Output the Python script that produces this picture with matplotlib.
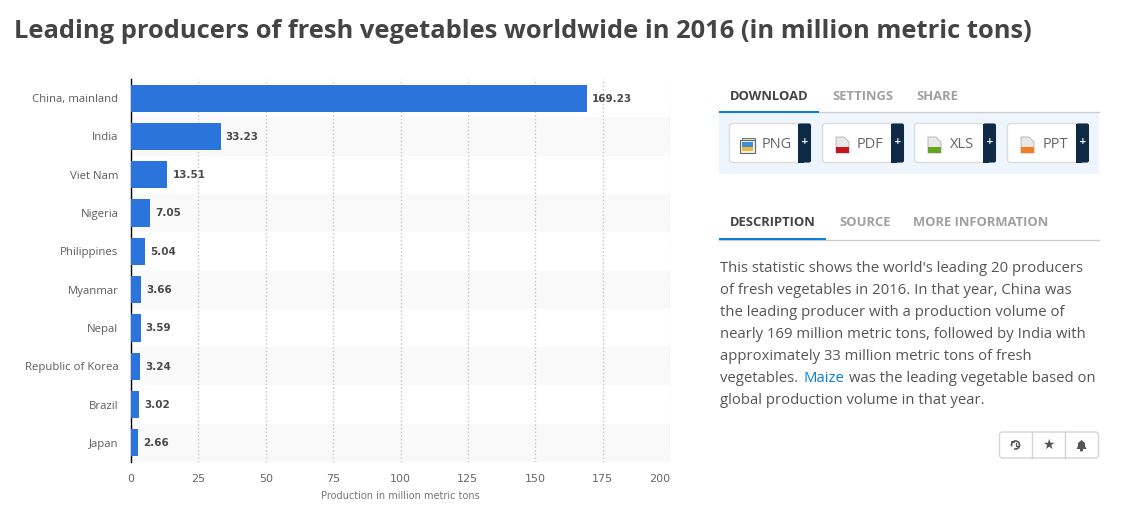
import matplotlib
matplotlib.use("Agg")
import matplotlib.pyplot as plt
from matplotlib.patches import FancyBboxPatch, Rectangle, Polygon, Circle, Arc

plt.rcParams['font.family'] = ['Open Sans', 'DejaVu Sans']

countries = ["China, mainland", "India", "Viet Nam", "Nigeria", "Philippines",
             "Myanmar", "Nepal", "Republic of Korea", "Brazil", "Japan"]
production = [169.23, 33.23, 13.51, 7.05, 5.04, 3.66, 3.59, 3.24, 3.02, 2.66]
x_ticks = [0, 25, 50, 75, 100, 125, 150, 175, 200]
tab_top = ["DOWNLOAD", "SETTINGS", "SHARE"]
tab_top_x = [730, 832, 916]
tab_bottom = ["DESCRIPTION", "SOURCE", "MORE INFORMATION"]
tab_bottom_x = [730, 839, 913]
download_types = ["PNG", "PDF", "XLS", "PPT"]
download_colors = ["#3f8fd6", "#c8141e", "#66a61e", "#f08020"]
description = ["This statistic shows the world's leading 20 producers",
               "of fresh vegetables in 2016. In that year, China was",
               "the leading producer with a production volume of",
               "nearly 169 million metric tons, followed by India with",
               "approximately 33 million metric tons of fresh",
               "vegetables.", "was the leading vegetable based on",
               "global production volume in that year."]

W, H = 1127, 526
fig = plt.figure(figsize=(W / 100, H / 100), dpi=100, facecolor='white')

# chart area
ax = fig.add_axes([131 / W, 1 - 462 / H, (670 - 131) / W, (462 - 79) / H])
ypos = list(range(len(countries)))
for i in ypos:
    if i % 2 == 1:
        ax.axhspan(i - 0.5, i + 0.5, color='#f9f9f9', lw=0, zorder=0)
ax.barh(ypos, production, height=0.71, color='#2a74dc', zorder=3)
for i, v in enumerate(production):
    ax.text(v + 1.9, i + 0.01, f"{v:.2f}", va='center', ha='left', fontsize=7.5,
            fontweight='bold', color='#4a4a4a', family='DejaVu Sans', zorder=4)
ax.set_xlim(0, 200)
ax.set_ylim(9.5, -0.5)
ax.set_yticks(ypos)
ax.set_yticklabels(countries, fontsize=8.2, color='#5c5c5c')
ax.set_xticks(x_ticks)
ax.set_xticklabels(x_ticks, fontsize=8, color='#666666', family='DejaVu Sans')
ax.get_xticklabels()[-1].set_ha('right')
ax.tick_params(length=0, pad=9, axis='x')
ax.tick_params(length=0, pad=9, axis='y')
ax.xaxis.grid(True, color='#c4c4c4', ls=':', lw=1, zorder=1)
ax.set_axisbelow(True)
for s in ['top', 'right', 'bottom']:
    ax.spines[s].set_visible(False)
ax.spines['left'].set_color('black')
ax.spines['left'].set_linewidth(1)
ax.set_xlabel("Production in million metric tons", fontsize=7, color='#777777',
              family='DejaVu Sans', labelpad=5)

# page furniture, in pixel coordinates
ui = fig.add_axes([0, 0, 1, 1], zorder=5)
ui.set_xlim(0, W)
ui.set_ylim(H, 0)
ui.axis('off')
ui.patch.set_alpha(0)

ui.text(14, 31.5, "Leading producers of fresh vegetables worldwide in 2016 (in million metric tons)",
        fontsize=18.35, fontweight='bold', color='#444444', va='center', ha='left')

for i, (label, x) in enumerate(zip(tab_top, tab_top_x)):
    ui.text(x, 96, label, fontsize=9.4, fontweight='bold', va='center',
            color='#444444' if i == 0 else '#a0a0a0')
ui.plot([719, 1099], [112, 112], color='#cccccc', lw=1)
ui.add_patch(Rectangle((719, 111), 100, 2.4, color='#0a7fdc', lw=0, zorder=3))
ui.add_patch(Rectangle((719, 113), 380, 61, color='#eff5fc', lw=0))

for label, color, x0 in zip(download_types, download_colors, [729, 822, 914, 1007]):
    ui.add_patch(FancyBboxPatch((x0 + 0.5, 123.5), 81, 39, boxstyle="round,pad=0,rounding_size=3",
                                fc='white', ec='#dcdcdc', lw=1))
    ui.add_patch(FancyBboxPatch((x0 + 69, 123.5), 13, 39, boxstyle="round,pad=0,rounding_size=2",
                                fc='#0f2a47', ec='none'))
    ui.add_patch(Rectangle((x0 + 69, 123.5), 6, 39, fc='#0f2a47', lw=0))
    ui.text(x0 + 75.5, 141, "+", color='white', fontsize=6.5, fontweight='bold',
            ha='center', va='center', family='DejaVu Sans')
    ui.text(x0 + 48, 145, label, fontsize=10.5, color='#666666', ha='center', va='center')
    # file icon
    ix = x0 + 14
    if label == "PNG":
        ui.add_patch(Rectangle((x0 + 13, 138), 13, 12, fc='#e8e8e8', ec='#777777', lw=0.8))
        ui.add_patch(Rectangle((x0 + 11, 140), 15, 13, fc='#f0f0f0', ec='#666666', lw=0.8))
        ui.add_patch(Rectangle((x0 + 13, 142), 11, 5, fc=color, lw=0))
        ui.add_patch(Rectangle((x0 + 13, 147), 11, 4, fc='#e8b840', lw=0))
    else:
        ui.add_patch(Polygon([(ix, 137), (ix + 8, 137), (ix + 13, 142), (ix + 13, 153), (ix, 153)],
                             fc='#e8e8e8', ec='#b0b0b0', lw=0.6))
        ui.add_patch(Rectangle((ix, 147), 13, 6, fc=color, lw=0))

for i, (label, x) in enumerate(zip(tab_bottom, tab_bottom_x)):
    ui.text(x, 222.5, label, fontsize=9.4, fontweight='bold', va='center',
            color='#444444' if i == 0 else '#a0a0a0')
ui.plot([719, 1099], [239.5, 239.5], color='#cccccc', lw=1)
ui.add_patch(Rectangle((719, 238), 107, 2.4, color='#0a7fdc', lw=0, zorder=3))

line_y = [268, 290, 312, 334, 356, 378, 400]
text_color = '#555555'
for y, line in zip(line_y[:5], description[:5]):
    ui.text(720.5, y, line, fontsize=10.75, color=text_color, va='center')
ui.text(720.5, line_y[5], description[5], fontsize=10.75, color=text_color, va='center')
ui.text(803.5, line_y[5], "Maize", fontsize=10.75, color='#0a7fdc', va='center')
ui.text(849, line_y[5], description[6], fontsize=10.75, color=text_color, va='center')
ui.text(720.5, line_y[6], description[7], fontsize=10.75, color=text_color, va='center')

# bookmark buttons
ui.add_patch(FancyBboxPatch((999.5, 432), 99, 26, boxstyle="round,pad=0,rounding_size=3",
                            fc='white', ec='#d5d5d5', lw=1))
ui.plot([1031.5, 1031.5], [432, 458], color='#d5d5d5', lw=1)
ui.plot([1064.5, 1064.5], [432, 458], color='#d5d5d5', lw=1)
ui.add_patch(Arc((1015.5, 445), 8, 8, theta1=-200, theta2=110, color='#555555', lw=1.2))
ui.plot([1011.5, 1014], [441.5, 441.5], color='#555555', lw=1.2)
ui.plot([1015.5, 1015.5, 1017.5], [443, 445.5, 445.5], color='#555555', lw=0.9)
ui.text(1048, 444.5, "\u2605", fontsize=10, color='#555555', ha='center', va='center',
        family='DejaVu Sans')
ui.add_patch(Polygon([(1076.5, 449), (1078, 446), (1078, 443), (1081.5, 440), (1085, 443),
                      (1085, 446), (1086.5, 449)], fc='#555555', lw=0))
ui.add_patch(Circle((1081.5, 450), 1.6, fc='#555555', lw=0))

fig.savefig("out.png", dpi=100, facecolor='white')
